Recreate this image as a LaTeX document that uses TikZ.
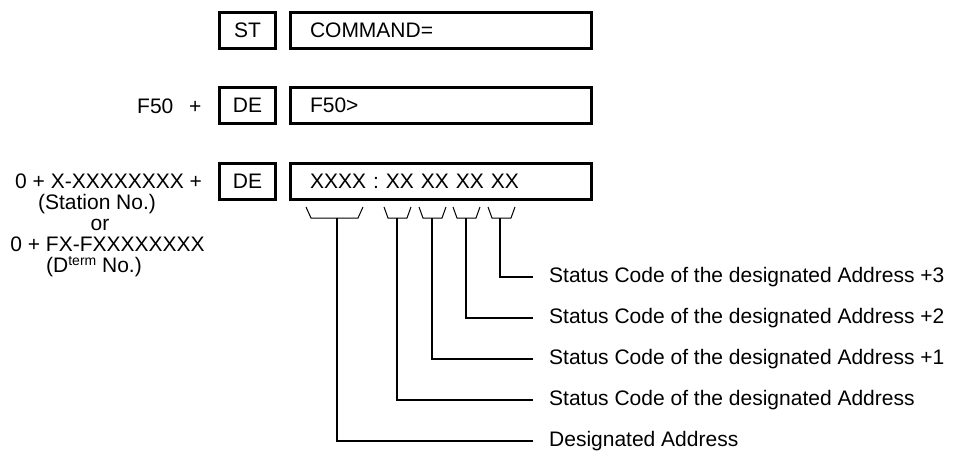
\documentclass[tikz,border=0pt]{standalone}
\usepackage{fontspec}
\setmainfont{Liberation Sans}
\begin{document}
\begin{tikzpicture}[x=1pt,y=-1pt,
  txt/.style={inner sep=0pt, font=\fontsize{21}{22}\selectfont},
  box/.style={draw, line width=3pt, inner sep=0pt, minimum height=36pt, font=\fontsize{21}{22}\selectfont},
  smallbox/.style={box, minimum width=56pt},
  widebox/.style={box, minimum width=301pt, text width=262pt, align=left, inner xsep=19.5pt},
  brace/.style={line width=1pt},
  conn/.style={line width=2pt, shorten >=16pt},
  lab/.style={txt, anchor=west, text height=11pt, text depth=0pt}]
\useasboundingbox (0,0) rectangle (958,455);

% row 1
\node[smallbox] (st) at (247.5,30.5) {ST};
\node[widebox] (cmd) at (441,30.5) {COMMAND=};
% row 2
\node[txt, anchor=base west] (f50) at (137,113) {F50};
\node[txt, anchor=base west] (plus1) at (189,113) {+};
\node[smallbox] (de1) at (247.5,105.5) {DE};
\node[widebox] (resp) at (441,105.5) {F50>};
% row 3
\node[txt, anchor=base west] (src1) at (15,188.5) {0 + X-XXXXXXXX +};
\node[txt, anchor=base] (stn) at (97,209) {(Station No.)};
\node[txt, anchor=base] (or) at (100,230) {or};
\node[txt, anchor=base] (src2) at (107.5,251) {0 + FX-FXXXXXXXX};
\node[txt, anchor=base] (dterm) at (94,272) {(D\raisebox{7pt}{\fontsize{14}{14}\selectfont term} No.)};
\node[smallbox] (de2) at (247.5,181) {DE};
\node[widebox] (data) at (441,181) {XXXX : XX XX XX XX};

% braces
\draw[brace] (306,207) -- (311,218) -- (358,218) -- (363,207);
\draw[brace] (384,207) -- (388,218) -- (407,218) -- (411,207);
\draw[brace] (419,207) -- (423,218) -- (442,218) -- (446,207);
\draw[brace] (453,207) -- (457,218) -- (476,218) -- (480,207);
\draw[brace] (488,207) -- (492,218) -- (511,218) -- (515,207);
\coordinate (b1) at (337,218);
\coordinate (b2) at (397,218);
\coordinate (b3) at (432,218);
\coordinate (b4) at (466,218);
\coordinate (b5) at (500,218);

% labels
\node[lab] (l5) at (549,277) {Status Code of the designated Address +3};
\node[lab] (l4) at (549,318) {Status Code of the designated Address +2};
\node[lab] (l3) at (549,359) {Status Code of the designated Address +1};
\node[lab] (l2) at (549,400) {Status Code of the designated Address};
\node[lab] (l1) at (549,441) {Designated Address};

\draw[conn] (b5) |- (l5.west);
\draw[conn] (b4) |- (l4.west);
\draw[conn] (b3) |- (l3.west);
\draw[conn] (b2) |- (l2.west);
\draw[conn] (b1) |- (l1.west);
\end{tikzpicture}
\end{document}
